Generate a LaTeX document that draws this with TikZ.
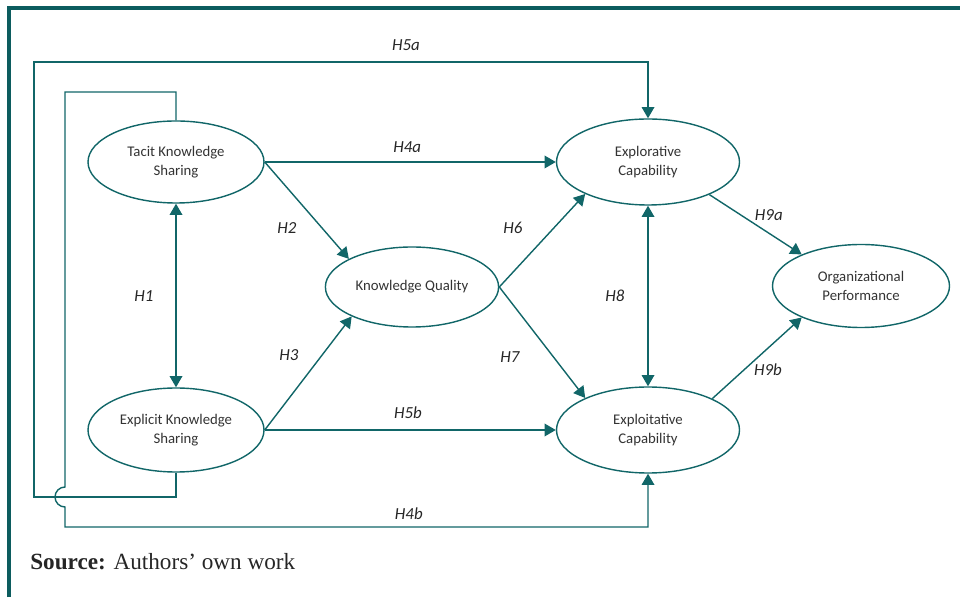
\documentclass[tikz,border=0pt]{standalone}
\usepackage{fontspec}
\setmainfont{Liberation Serif}
\newfontfamily\calibri{Carlito}
\usepackage{xcolor}
\usetikzlibrary{shapes.geometric,arrows.meta}
\definecolor{tealline}{RGB}{17,102,104}
\definecolor{tealframe}{RGB}{12,92,94}

\begin{document}
\begin{tikzpicture}[
	construct/.style={draw=tealline, line width=1pt, ellipse, inner sep=0pt, minimum width=4.4cm, minimum height=2.05cm, align=center, font=\calibri\fontsize{10.5}{13.5}\selectfont, text=black!80},
	hyp/.style={font=\calibri\itshape\fontsize{12}{14}\selectfont, text=black!85, inner sep=1pt},
	link/.style={draw=tealline, line width=1pt, -{Triangle[length=8pt,width=9pt]}},
	twoway/.style={link, {Triangle[length=8pt,width=9pt]}-{Triangle[length=8pt,width=9pt]}}]
	\useasboundingbox (0,0) rectangle (24,14.925);
	% frame
	\draw[tealframe, line width=2.2pt] (0.225,0) -- (0.225,14.725) -- (24,14.725);
	% constructs
	\node[construct] (tacit) at (4.4,10.875) {Tacit Knowledge\\Sharing};
	\node[construct, minimum height=2.1cm] (explicit) at (4.4,4.175) {Explicit Knowledge\\Sharing};
	\node[construct, minimum width=4.33cm, minimum height=2cm] (quality) at (10.3,7.75) {Knowledge Quality};
	\node[construct, minimum width=4.575cm, minimum height=2.15cm] (explor) at (16.2,10.875) {Explorative\\Capability};
	\node[construct, minimum width=4.575cm, minimum height=2.15cm] (exploit) at (16.2,4.175) {Exploitative\\Capability};
	\node[construct, minimum width=4.425cm, minimum height=2.075cm] (perf) at (21.525,7.775) {Organizational\\Performance};
	% paths
	\draw[twoway] (tacit.south) -- (explicit.north);
	\draw[link] (tacit.east) -- (explor.west);
	\draw[link] (explicit.east) -- (exploit.west);
	\draw[link] (tacit.east) -- (quality.156);
	\draw[link] (explicit.east) -- (quality.206);
	\draw[link] (quality.east) -- (explor.207);
	\draw[link] (quality.east) -- (exploit.153);
	\draw[twoway] (explor.south) -- (exploit.north);
	\draw[link] (explor.332) -- (perf.152);
	\draw[link] (exploit.26) -- (perf.208);
	\draw[link] (explicit.south) |- (0.85,2.5) -- (0.85,13.375) -| (explor.north);
	\draw[link] (tacit.north) |- (1.625,12.625) -- (1.625,2.75) arc (90:270:0.25) -- (1.625,1.75) -| (exploit.south);
	% labels
	\node[hyp] (h5a) at (10.15,13.8) {H5a};
	\node[hyp] (h4a) at (10.18,11.25) {H4a};
	\node[hyp] (h2) at (7.175,9.225) {H2};
	\node[hyp] (h1) at (3.6,7.525) {H1};
	\node[hyp] (h3) at (7.225,6.05) {H3};
	\node[hyp] (h5b) at (10.2,4.6) {H5b};
	\node[hyp] (h4b) at (10.22,2.075) {H4b};
	\node[hyp] (h6) at (12.825,9.225) {H6};
	\node[hyp] (h7) at (12.75,6.0) {H7};
	\node[hyp] (h8) at (15.375,7.525) {H8};
	\node[hyp] (h9a) at (19.22,9.55) {H9a};
	\node[hyp] (h9b) at (19.2,5.675) {H9b};
	\node[anchor=base west, font=\fontsize{16.5}{19}\selectfont, text=black!85, inner sep=0pt] (source) at (0.75,0.7) {\textbf{Source:} Authors’ own work};
\end{tikzpicture}
\end{document}
